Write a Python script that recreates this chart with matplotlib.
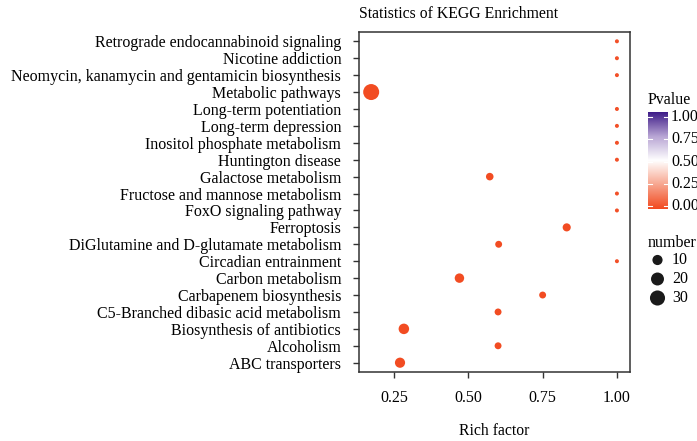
import numpy as np
import matplotlib
matplotlib.use('Agg')
import matplotlib.pyplot as plt
from matplotlib.colors import LinearSegmentedColormap

plt.rcParams['font.family'] = ['Liberation Serif', 'DejaVu Serif']

pathways = [
    "Retrograde endocannabinoid signaling",
    "Nicotine addiction",
    "Neomycin, kanamycin and gentamicin biosynthesis",
    "Metabolic pathways",
    "Long-term potentiation",
    "Long-term depression",
    "Inositol phosphate metabolism",
    "Huntington disease",
    "Galactose metabolism",
    "Fructose and mannose metabolism",
    "FoxO signaling pathway",
    "Ferroptosis",
    "DiGlutamine and D-glutamate metabolism",
    "Circadian entrainment",
    "Carbon metabolism",
    "Carbapenem biosynthesis",
    "C5-Branched dibasic acid metabolism",
    "Biosynthesis of antibiotics",
    "Alcoholism",
    "ABC transporters",
]
rich_factor = [1.0, 1.0, 1.0, 0.173, 1.0, 1.0, 1.0, 1.0, 0.572, 1.0,
               1.0, 0.831, 0.602, 1.0, 0.47, 0.75, 0.60, 0.283, 0.60, 0.27]
number = [1, 1, 1, 35, 1, 1, 1, 1, 4, 1, 1, 5, 3, 1, 8, 3, 3, 11, 3, 10]
pvalue = [0.02, 0.02, 0.02, 0.01, 0.02, 0.02, 0.02, 0.02, 0.01, 0.02,
          0.02, 0.01, 0.01, 0.02, 0.01, 0.01, 0.01, 0.01, 0.01, 0.01]
legend_numbers = [10, 20, 30]
cbar_ticks = [0, 0.25, 0.5, 0.75, 1.0]

cmap = LinearSegmentedColormap.from_list(
    "pv", ["#F2491F", "#F7A58E", "#FFFFFF", "#B8A5D4", "#3E1C88"])

def diam_px(n):
    # ggplot-like area scale: diameter linear in sqrt of rescaled value
    lo, hi = min(number), max(number)
    return 4.0 + np.sqrt((np.asarray(n, float) - lo) / (hi - lo)) * 12.0

def size_pts(n):
    return (diam_px(n) * 0.72) ** 2

fs = 11.5

fig = plt.figure(figsize=(6.97, 4.41), dpi=100)
ax = fig.add_axes([359 / 697, 1 - 372 / 441, 271 / 697, 340 / 441])

ypos = np.arange(len(pathways))[::-1]
ax.scatter(rich_factor, ypos, s=size_pts(number), c=pvalue, cmap=cmap,
           vmin=0, vmax=1, edgecolors='none', zorder=3)

ax.set_xlim(0.132, 1.044)
ax.set_ylim(-0.55, len(pathways) - 0.45)
ax.set_xticks([0.25, 0.5, 0.75, 1.0])
ax.set_xticklabels(["0.25", "0.50", "0.75", "1.00"])
ax.set_yticks(ypos)
ax.set_yticklabels(pathways)
ax.tick_params(labelsize=fs, length=4.3, width=1, color='#333333')
ax.tick_params(axis='y', pad=8.5)
ax.tick_params(axis='x', pad=9)
for sp in ax.spines.values():
    sp.set_linewidth(1.1)
    sp.set_color('#333333')
ax.set_xlabel("Rich factor", fontsize=11.3, labelpad=12)
ax.set_title("Statistics of KEGG Enrichment", fontsize=11.3, loc='left', pad=10)

# colour bar legend
cax = fig.add_axes([648 / 697, 1 - 209 / 441, 20 / 697, 97 / 441])
lo_pad, hi_pad = 3 / 89, 5 / 89
grad = np.linspace(0, 1, 256).reshape(-1, 1)
cax.imshow(grad, aspect='auto', cmap=cmap, origin='lower',
           extent=[0, 1, -lo_pad, 1 + hi_pad])
for t in cbar_ticks:
    cax.plot([0, 0.2], [t, t], color='white', lw=0.8)
    cax.plot([0.8, 1], [t, t], color='white', lw=0.8)
    cax.text(1.15, t, f"{t:.2f}", transform=cax.transData, va='center',
             ha='left', fontsize=fs, clip_on=False)
cax.set_xlim(0, 1)
cax.set_ylim(-lo_pad, 1 + hi_pad)
cax.axis('off')
fig.text(648 / 697, 1 - 100 / 441, "Pvalue", fontsize=fs, va='center', ha='left')

# size legend
fig.text(648 / 697, 1 - 243 / 441, "number", fontsize=fs, va='center', ha='left')
lax = fig.add_axes([645 / 697, 1 - 310 / 441, 52 / 697, 60 / 441])
lax.set_xlim(0, 52)
lax.set_ylim(60, 0)
lax.axis('off')
for i, n in enumerate(legend_numbers):
    yy = 10 + i * 19
    lax.scatter([12.5], [yy], s=size_pts(n), color='#1a1a1a', edgecolors='none')
    lax.text(27, yy, str(n), va='center', ha='left', fontsize=fs)

fig.savefig("out.png", dpi=100)
